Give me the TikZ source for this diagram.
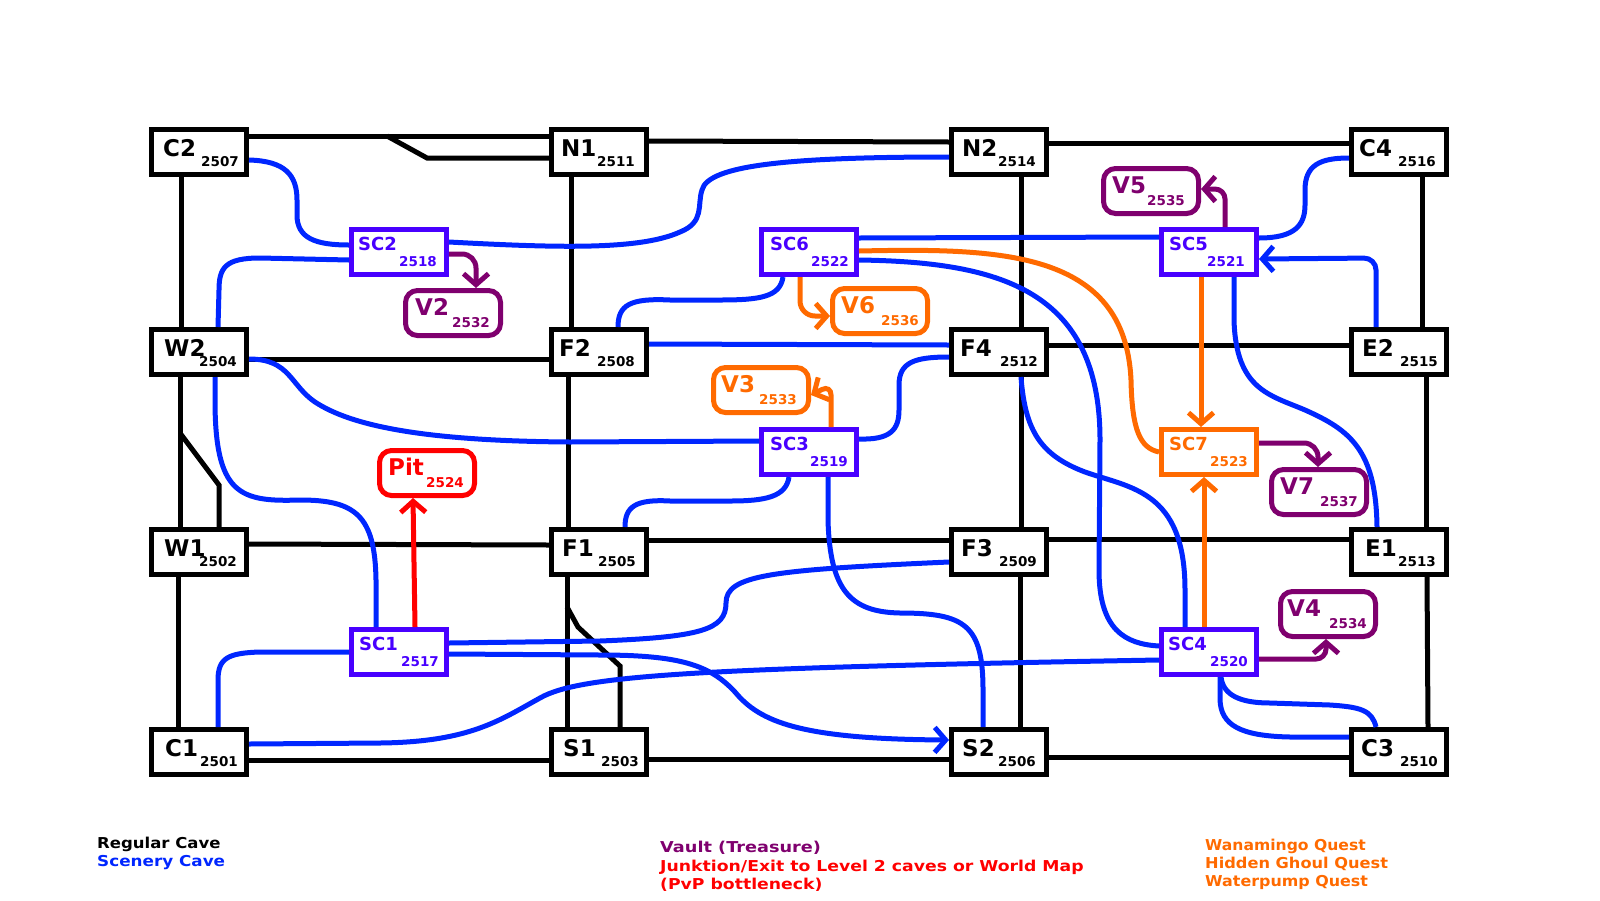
\documentclass[tikz,border=0pt]{standalone}
\usepackage{fontspec}
\usepackage{graphicx}
\setmainfont{DejaVu Sans}
\usetikzlibrary{arrows.meta}
\definecolor{regularcol}{HTML}{000000}
\definecolor{scenerycol}{HTML}{0026FF}
\definecolor{scboxcol}{HTML}{4800FF}
\definecolor{vaultcol}{HTML}{7F006E}
\definecolor{questcol}{HTML}{FF6A00}
\definecolor{exitcol}{HTML}{FF0000}
\newcommand{\pxfont}[1]{\bfseries\fontsize{#1}{#1}\selectfont}
\newcommand{\wide}[2][1.15]{\scalebox{#1}[1]{#2}}
\begin{document}
\begin{tikzpicture}[x=1pt, y=-1pt, >={Straight Barb[length=11pt,width=25pt]},
    cavebox/.style={draw, line width=5pt, minimum width=95pt, minimum height=45pt, inner sep=0pt},
    vaultbox/.style={cavebox, rounded corners=12pt},
    title/.style={anchor=west, inner sep=0pt, font=\pxfont{#1}},
    idnum/.style={anchor=east, inner sep=0pt, font=\pxfont{13.5}},
    legend/.style={anchor=base west, inner sep=0pt, font=\pxfont{15}},
    link/.style={line width=5pt},
    scenic/.style={link, scenerycol}]
    \useasboundingbox (0,0) rectangle (1600,900);

    % Regular caves
    \foreach \name/\num/\x/\y/\tx/\nx in {C2/2507/199/152/163/239, N1/2511/599/152/561/635, N2/2514/999/152/962/1036, C4/2516/1399/152/1359/1436,
        W2/2504/199/352/164/237, F2/2508/599/352/559/635, F4/2512/999/352/960/1038, E2/2515/1399/352/1362/1438,
        W1/2502/199/552/164/237, F1/2505/599/552/562/636, F3/2509/999/552/961/1037, E1/2513/1399/552/1365/1436,
        C1/2501/199/752/165/238, S1/2503/599/752/563/639, S2/2506/999/752/962/1036, C3/2510/1399/752/1361/1438} {
        \node[cavebox] (\name) at (\x,\y) {};
        \node[title=23] (\name-t) at (\tx,\y-4) {\name};
        \node[idnum] (\name-n) at (\nx,\y+10) {\num};
    }

    % Scenery caves
    \foreach \name/\num/\x/\y/\tx/\nx/\col in {SC2/2518/399/252/358/437/scboxcol, SC6/2522/809/252/770/849/scboxcol, SC5/2521/1209/252/1169/1245/scboxcol,
        SC3/2519/809/452/770/848/scboxcol, SC7/2523/1209/452/1169/1248/questcol, SC1/2517/399/652/359/439/scboxcol, SC4/2520/1209/652/1168/1248/scboxcol} {
        \node[cavebox, \col] (\name) at (\x,\y) {};
        \node[title=18, \col] (\name-t) at (\tx,\y-8) {\name};
        \node[idnum, \col] (\name-n) at (\nx,\y+10) {\num};
    }

    % Vaults and the pit
    \foreach \name/\num/\x/\y/\tx/\nx/\col in {V2/2532/453/313/415/490/vaultcol, V6/2536/880/311/841/919/questcol, V3/2533/761/390/721/797/questcol,
        V5/2535/1151/191/1112/1185/vaultcol, V7/2537/1319/492/1280/1358/vaultcol, V4/2534/1328/614/1287/1367/vaultcol, Pit/2524/427/473/388/464/exitcol} {
        \node[vaultbox, \col] (\name) at (\x,\y) {};
        \node[title=23, \col] (\name-t) at (\tx,\y-6) {\name};
        \node[idnum, \col] (\name-n) at (\nx,\y+10) {\num};
    }

    % Black grid, rows
    \draw[link] ([yshift=16pt]C2.east) -- ([yshift=16pt]N1.west);
    \draw[link] ([yshift=11pt]N1.east) -- ([yshift=10pt]N2.west);
    \draw[link] ([yshift=9pt]N2.east) -- ([yshift=9pt]C4.west);
    \draw[link] ([yshift=-7pt]W2.east) -- ([yshift=-7pt]F2.west);
    \draw[link] ([yshift=7pt]F4.east) -- ([yshift=7pt]E2.west);
    \draw[link] ([yshift=8pt]W1.east) -- ([yshift=7pt]F1.west);
    \draw[link] ([yshift=12pt]F1.east) -- ([yshift=12pt]F3.west);
    \draw[link] ([yshift=13pt]F3.east) -- ([yshift=13pt]E1.west);
    \draw[link] ([yshift=-8pt]C1.east) -- ([yshift=-8pt]S1.west);
    \draw[link] ([yshift=-7pt]S1.east) -- ([yshift=-7pt]S2.west);
    \draw[link] ([yshift=-5pt]S2.east) -- ([yshift=-5pt]C3.west);

    % Black grid, columns
    \draw[link] ([xshift=-18pt]C2.south) -- ([xshift=-18pt]W2.north);
    \draw[link] ([xshift=-19pt]W2.south) -- ([xshift=-19pt]W1.north);
    \draw[link] ([xshift=-21pt]W1.south) -- ([xshift=-21pt]C1.north);
    \draw[link] ([xshift=-28pt]N1.south) -- ([xshift=-28pt]F2.north);
    \draw[link] ([xshift=-31pt]F2.south) -- ([xshift=-31pt]F1.north);
    \draw[link] ([xshift=-32pt]F1.south) -- ([xshift=-32pt]S1.north);
    \draw[link] ([xshift=22pt]N2.south) -- ([xshift=22pt]F4.north);
    \draw[link] ([xshift=22pt]F4.south) -- ([xshift=22pt]F3.north);
    \draw[link] ([xshift=21pt]F3.south) -- ([xshift=21pt]S2.north);
    \draw[link] ([xshift=23pt]C4.south) -- ([xshift=23pt]E2.north);
    \draw[link] ([xshift=27pt]E2.south) -- ([xshift=27pt]E1.north);
    \draw[link] ([xshift=28pt]E1.south) -- ([xshift=29pt]C3.north);

    % Side branches
    \coordinate (forkN) at (387,136);
    \coordinate (forkW) at (180,433);
    \coordinate (forkS) at (567,607);
    \draw[link] (forkN) -- (427,158) -- ([yshift=-6pt]N1.west);
    \draw[link] (forkW) -- (219,485) -- ([xshift=20pt]W1.north);
    \draw[link] (forkS) -- (578,627) -- (620,666) -- ([xshift=21pt]S1.north);

    % Scenery connectors
    \draw[scenic] ([yshift=-8pt]C2.east) .. controls (285,161) and (297,175) .. (297,200) -- (297,215)
        .. controls (297,238) and (315,245) .. ([yshift=7pt]SC2.west);
    \draw[scenic] ([yshift=-8pt]SC2.west) -- (260,258) .. controls (225,258) and (219,268) .. (219,290) -- ([xshift=19pt]W2.north);
    \draw[scenic] ([yshift=10pt]SC2.east) .. controls (560,248) and (640,250) .. (680,232) .. controls (705,222) and (697,205) .. (702,190)
        .. controls (708,165) and (790,157) .. ([yshift=-5pt]N2.west);
    \draw[scenic] ([xshift=-23pt]SC1.north) -- (376,580) .. controls (375,515) and (355,500) .. (300,500)
        .. controls (240,502) and (215,495) .. (215,400) -- ([xshift=16pt]W2.south);
    \draw[scenic] ([yshift=-7pt]W2.east) .. controls (290,359) and (290,385) .. (315,402)
        .. controls (350,425) and (420,441) .. (570,442) -- ([yshift=11pt]SC3.west);
    \draw[scenic] ([yshift=14pt]SC6.east) -- ([yshift=15pt]SC5.west);
    \draw[scenic] ([xshift=-26pt]SC6.south) .. controls (780,297) and (760,300) .. (720,300) -- (670,300)
        .. controls (630,298) and (618,305) .. ([xshift=19pt]F2.north);
    \draw[scenic] ([yshift=-8pt]SC6.east) .. controls (1000,262) and (1100,290) .. (1100,440) -- (1099,570)
        .. controls (1099,630) and (1125,644) .. ([yshift=6pt]SC4.west);
    \draw[scenic] ([yshift=13pt]SC3.east) .. controls (890,440) and (899,430) .. (899,410) -- (899,385)
        .. controls (899,362) and (915,357) .. ([yshift=-5pt]F4.west);
    \draw[scenic] ([yshift=8pt]F2.east) -- ([yshift=7pt]F4.west);
    \draw[scenic] ([yshift=14pt]SC5.east) .. controls (1295,238) and (1305,225) .. (1305,205) -- (1305,190)
        .. controls (1305,165) and (1320,158) .. ([yshift=-6pt]C4.west);
    \draw[scenic, ->, rounded corners=12pt] ([xshift=-23pt]E2.north) -- (1376,258) -- ([yshift=-7pt]SC5.east);
    \draw[scenic] ([xshift=25pt]SC5.south) -- (1234,320) .. controls (1236,390) and (1270,395) .. (1305,410)
        .. controls (1350,430) and (1376,450) .. ([xshift=-22pt]E1.north);
    \draw[scenic] ([xshift=22pt]F4.south) .. controls (1025,430) and (1040,455) .. (1085,472)
        .. controls (1130,488) and (1185,490) .. (1185,590) -- ([xshift=-24pt]SC4.north);
    \draw[scenic] ([xshift=-20pt]SC3.south) .. controls (786,497) and (765,501) .. (730,501) -- (670,501)
        .. controls (635,499) and (625,507) .. ([xshift=26pt]F1.north);
    \draw[scenic] ([xshift=19pt]SC3.south) -- (828,520) .. controls (830,590) and (850,612) .. (900,613)
        .. controls (965,613) and (983,625) .. (983,690) -- ([xshift=-16pt]S2.north);
    \draw[scenic] ([yshift=9pt]SC1.east) -- (600,641) .. controls (700,637) and (726,630) .. (726,603)
        .. controls (726,575) and (770,570) .. ([yshift=-10pt]F3.west);
    \draw[scenic, ->] ([yshift=-2pt]SC1.east) -- (600,655) .. controls (680,655) and (710,665) .. (735,692)
        .. controls (760,722) and (800,739) .. ([yshift=12pt]S2.west);
    \draw[scenic] ([xshift=19pt]C1.north) -- (218,680) .. controls (218,658) and (228,653) .. (260,652) -- (SC1.west);
    \draw[scenic] ([yshift=8pt]C1.east) -- (380,743) .. controls (470,742) and (500,720) .. (540,698)
        .. controls (580,675) and (700,668) .. ([yshift=-8pt]SC4.west);
    \draw[scenic] ([xshift=12pt]SC4.south) .. controls (1223,695) and (1240,703) .. (1270,703) -- (1330,705)
        .. controls (1360,707) and (1372,710) .. ([xshift=-23pt]C3.north);
    \draw[scenic] ([xshift=11pt]SC4.south) -- (1220,700) .. controls (1221,725) and (1240,736) .. (1290,737) -- ([yshift=15pt]C3.west);

    % Quest connectors
    \draw[link, questcol, ->, rounded corners=15pt] ([xshift=-9pt]SC6.south) -- (800,316) -- ([yshift=-5pt]V6.west);
    \draw[link, questcol] ([yshift=1pt]SC6.east) .. controls (1000,248) and (1125,250) .. (1131,380)
        .. controls (1132,430) and (1140,448) .. (SC7.west);
    \draw[link, questcol, ->] ([xshift=-8pt]SC5.south) -- ([xshift=-8pt]SC7.north);
    \draw[link, questcol, ->] ([xshift=-5pt]SC4.north) -- ([xshift=-5pt]SC7.south);
    \draw[link, questcol, ->, rounded corners=10pt] ([xshift=22pt]SC3.north) -- (831,385) -- ([yshift=-5pt]V3.east);

    % Vault connectors
    \draw[link, vaultcol, ->, rounded corners=14pt] ([yshift=-2pt]SC2.east) -- (476,254) -- ([xshift=23pt]V2.north);
    \draw[link, vaultcol, ->, rounded corners=10pt] ([xshift=16pt]SC5.north) -- (1225,189) -- ([yshift=2pt]V5.east);
    \draw[link, vaultcol, ->, rounded corners=14pt] ([yshift=9pt]SC7.east) -- (1318,443) -- ([xshift=-1pt]V7.north);
    \draw[link, vaultcol, ->, rounded corners=10pt] ([yshift=-7pt]SC4.east) -- (1326,659) -- ([xshift=-2pt]V4.south);
    \draw[link, exitcol, ->] ([xshift=16pt]SC1.north) -- ([xshift=-14pt]Pit.south);

    % Legend
    \node[legend] (regular) at (97,848) {\wide[1.10]{Regular Cave}};
    \node[legend, scenerycol] (scenery) at (97,866) {\wide[1.12]{Scenery Cave}};
    \node[legend, vaultcol] (vault) at (660,852) {\wide[1.18]{Vault (Treasure)}};
    \node[legend, exitcol] (exit) at (660,871) {\wide{Junktion/Exit to Level 2 caves or World Map}};
    \node[legend, exitcol] (pvp) at (660,889) {\wide{(PvP bottleneck)}};
    \node[legend, questcol] (wanamingo) at (1205,850) {\wide[1.04]{Wanamingo Quest}};
    \node[legend, questcol] (ghoul) at (1205,868) {\wide[1.08]{Hidden Ghoul Quest}};
    \node[legend, questcol] (pump) at (1205,886) {\wide[1.06]{Waterpump Quest}};
\end{tikzpicture}
\end{document}
